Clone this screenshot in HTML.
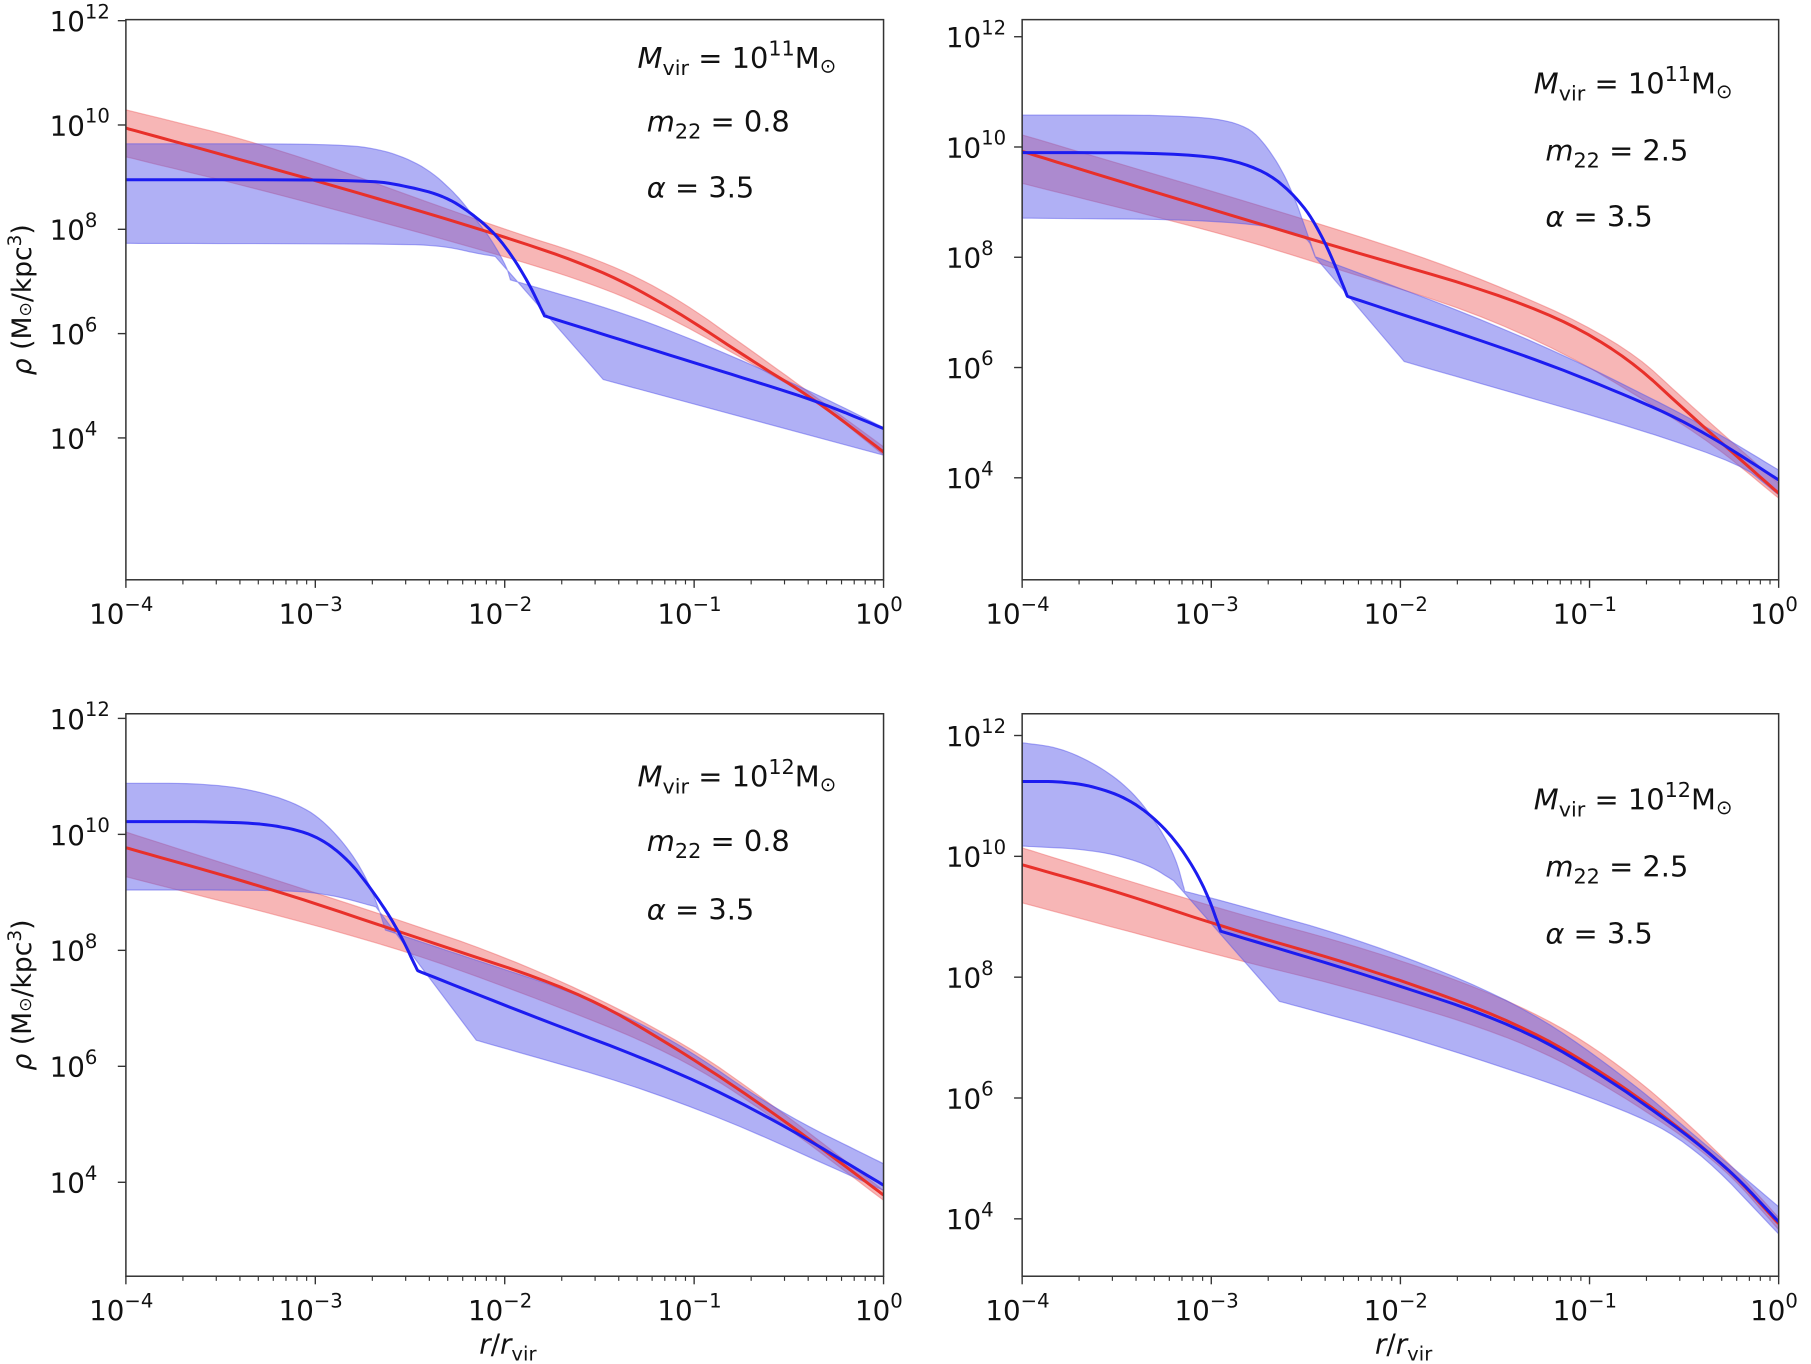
<!DOCTYPE html>
<html><head><meta charset="utf-8"><style>
html,body{margin:0;padding:0;background:#fff;}
svg{display:block;font-family:"DejaVu Sans","Liberation Sans",sans-serif;}
</style></head><body>
<svg id="fig" width="1811" height="1364" viewBox="0 0 1568 1181" preserveAspectRatio="none" xmlns="http://www.w3.org/2000/svg"></svg>
<script>
// ---- data (log10 r/rvir , log10 rho) ----
// top-left
const tlRedX=[-4,-2.94,-2.05,-1.49,-1.10,-0.70,-0.36,0];
const tlRedMean=[9.94,8.88,7.92,7.22,6.45,5.49,4.73,3.73];
const tlRUX=[-4,-3.21,-2.05,-1.49,-1.1,-0.7,-0.36,0];
const tlRedUp=[10.29,9.58,8.05,7.41,6.71,5.68,4.79,3.83];
const tlRLX=[-4,-3.21,-2.05,-1.49,-1.1,-0.7,-0.36,0];
const tlRedLo=[9.39,8.69,7.54,6.9,6.26,5.43,4.73,3.67];
const tlBlueX=[-4,-2.73,-2.52,-2.31,-2.15,-2.02,-1.89,-1.79,-1.36,-0.83,-0.36,0];
const tlBlueMean=[8.95,8.95,8.83,8.63,8.24,7.8,7.09,6.34,5.85,5.25,4.72,4.18];
const tlBUpX=[-4,-2.89,-2.63,-2.42,-2.26,-2.15,-2.07,-1.99,-1.97,-1.36,-0.83,-0.36,0];
const tlBUp=[9.64,9.64,9.52,9.2,8.69,8.18,7.8,7.28,7.03,6.39,5.62,4.85,4.2];
const tlBLoX=[-4,-2.52,-2.31,-2.15,-2.05,-1.48,0];
const tlBLo=[7.73,7.72,7.67,7.54,7.48,5.12,3.67];

// top-right
const trRedX=[-4,-3.22,-2.43,-1.37,-0.84,-0.44,0];
const trRedMean=[9.92,9.1,8.28,7.23,6.32,5.05,3.72];
const trRUX=[-4,-2.43,-1.63,-0.84,-0.44,0];
const trRedUp=[10.22,8.62,7.71,6.5,5.23,3.9];
const trRLX=[-4,-2.95,-2.43,-1.37,-0.44,0];
const trRedLo=[9.34,8.44,7.89,6.74,4.87,3.63];
const trBlueX=[-4,-3.09,-2.74,-2.53,-2.4,-2.28,-1.37,-0.84,-0.44,0];
const trBlueMean=[9.9,9.89,9.64,9.04,8.31,7.29,6.26,5.55,4.93,3.96];
const trBUpX=[-4,-3.14,-2.82,-2.69,-2.58,-2.48,-2.45,-1.37,-0.44,0];
const trBUp=[10.58,10.58,10.43,9.95,9.28,8.31,8.01,6.62,5.05,4.14];
const trBLoX=[-4,-2.95,-2.5,-2.45,-1.98,-0.26,0];
const trBLo=[8.71,8.68,8.45,8.0,6.11,4.41,3.69];

// bottom-left
const blRedX=[-4,-3.21,-2.42,-1.62,-1.1,-0.57,0];
const blRedMean=[9.77,9.04,8.17,7.31,6.33,5.18,3.78];
const blRUX=[-4,-2.68,-1.89,-1.1,-0.57,0];
const blRedUp=[10.04,8.66,7.77,6.51,5.3,3.86];
const blRLX=[-4,-2.68,-1.89,-1.1,-0.57,0];
const blRedLo=[9.27,8.17,7.25,6.22,5.1,3.69];
const blBlueX=[-4,-3.47,-3.21,-3.0,-2.84,-2.71,-2.57,-2.46,-1.89,-1.1,-0.57,0];
const blBlueMean=[10.22,10.22,10.16,9.99,9.61,9.09,8.4,7.65,6.91,5.93,5.07,3.95];
const blBUpX=[-4,-3.6,-3.31,-3.05,-2.89,-2.76,-2.68,-2.63,-2.15,-1.62,-1.1,-0.57,0];
const blBUp=[10.88,10.88,10.76,10.47,10.02,9.44,8.87,8.35,7.83,7.26,6.45,5.24,4.32];
const blBLoX=[-4,-3.21,-2.94,-2.68,-2.15,-1.1,0];
const blBLo=[9.04,9.04,8.98,8.75,6.45,5.47,3.86];

// bottom-right
const brRedX=[-4,-3.48,-2.95,-2.16,-1.37,-0.84,-0.31,0];
const brRedMean=[9.86,9.4,8.84,8.13,7.24,6.25,4.98,3.92];
const brRUX=[-4,-2.95,-2.16,-1.37,-0.84,-0.31,0];
const brRedUp=[10.14,9.12,8.46,7.57,6.58,5.09,4.02];
const brRLX=[-4,-2.95,-2.16,-1.37,-0.84,-0.31,0];
const brRedLo=[9.23,8.35,7.74,6.97,6.08,4.93,3.82];
const brBlueX=[-4,-3.8,-3.62,-3.43,-3.27,-3.14,-3.03,-2.95,-2.16,-1.37,-0.84,-0.31,0];
const brBlueMean=[11.24,11.24,11.16,10.94,10.55,10.06,9.45,8.76,8.02,7.19,6.2,4.98,3.95];
const brBUpX=[-4,-3.8,-3.59,-3.43,-3.3,-3.19,-3.14,-2.9,-2.16,-1.37,-0.84,-0.44,0];
const brBUp=[11.88,11.8,11.49,11.11,10.61,10.0,9.42,9.23,8.57,7.57,6.42,5.37,4.2];
const brBLoX=[-4,-3.62,-3.35,-3.2,-2.64,-1.9,-0.84,-0.44,0];
const brBLo=[10.17,10.11,9.89,9.6,7.6,6.97,5.86,5.2,3.75];

const xTickVals=[-4,-3,-2,-1,0];
const yTickVals=[4,6,8,10,12];

// indices of sharp corners for [blueMean, blueUpper, blueLower]
const panels=[
 {id:'top-left',x0:109,x1:765,y0:17,y1:502,yTop:12.02,yBot:1.28,t:[552,50,560,105,560,162],m:'11',mm:'0.8',
  r:[tlRedX,tlRedMean,tlRUX,tlRedUp,tlRLX,tlRedLo],b:[tlBlueX,tlBlueMean,tlBUpX,tlBUp,tlBLoX,tlBLo],c:[[7],[8],[4,5]],ylab:true,xlab:false},
 {id:'top-right',x0:885,x1:1540,y0:17,y1:502,yTop:12.31,yBot:2.15,t:[1328,72,1338,130,1338,187],m:'11',mm:'2.5',
  r:[trRedX,trRedMean,trRUX,trRedUp,trRLX,trRedLo],b:[trBlueX,trBlueMean,trBUpX,trBUp,trBLoX,trBLo],c:[[5],[6],[3,4]],ylab:false,xlab:false},
 {id:'bottom-left',x0:109,x1:765,y0:618,y1:1105,yTop:12.08,yBot:2.38,t:[552,672,560,728,560,787],m:'12',mm:'0.8',
  r:[blRedX,blRedMean,blRUX,blRedUp,blRLX,blRedLo],b:[blBlueX,blBlueMean,blBUpX,blBUp,blBLoX,blBLo],c:[[7],[7],[3,4]],ylab:true,xlab:true},
 {id:'bottom-right',x0:885,x1:1540,y0:618,y1:1105,yTop:12.36,yBot:3.05,t:[1328,692,1338,750,1338,808],m:'12',mm:'2.5',
  r:[brRedX,brRedMean,brRUX,brRedUp,brRLX,brRedLo],b:[brBlueX,brBlueMean,brBUpX,brBUp,brBLoX,brBLo],c:[[7],[6],[3,4]],ylab:false,xlab:true}
];

const NS='http://www.w3.org/2000/svg';
const svg=document.getElementById('fig');
function mk(tag,attrs,parent){const e=document.createElementNS(NS,tag);for(const k in attrs)e.setAttribute(k,attrs[k]);(parent||svg).appendChild(e);return e;}

function chaikin(P,iter){
  if(P.length<3)return P;
  for(let k=0;k<iter;k++){
    const Q=[P[0]];
    for(let i=0;i<P.length-1;i++){
      const a=P[i],b=P[i+1];
      Q.push([0.75*a[0]+0.25*b[0],0.75*a[1]+0.25*b[1]]);
      Q.push([0.25*a[0]+0.75*b[0],0.25*a[1]+0.75*b[1]]);
    }
    Q.push(P[P.length-1]);P=Q;
  }
  return P;
}
function smoothWithCorners(P,corners){
  const cuts=[0].concat(corners||[],[P.length-1]);
  let out=[];
  for(let i=0;i<cuts.length-1;i++){
    const seg=chaikin(P.slice(cuts[i],cuts[i+1]+1),3);
    out=out.concat(i?seg.slice(1):seg);
  }
  return out;
}

panels.forEach(p=>{
  const g=mk('g',{});
  
  
  const sx=v=>p.x0+(v+4)/4*(p.x1-p.x0);
  const sy=v=>p.y0+(p.yTop-v)/(p.yTop-p.yBot)*(p.y1-p.y0);
  const pts=(xs,ys,c)=>smoothWithCorners(xs.map((x,i)=>[sx(x),sy(ys[i])]),c).map(q=>q[0].toFixed(1)+','+q[1].toFixed(1));
  const band=(xu,yu,cu,xl,yl,cl)=>pts(xu,yu,cu).concat(pts(xl,yl,cl).reverse()).join(' ');
  const cp=mk('clipPath',{id:'clip-'+p.id},g);
  mk('rect',{x:p.x0,y:p.y0,width:p.x1-p.x0,height:p.y1-p.y0},cp);
  const inner=mk('g',{'clip-path':'url(#clip-'+p.id+')'},g);
  const rb=mk('polygon',{points:band(p.r[2],p.r[3],[],p.r[4],p.r[5],[]),fill:'rgba(240,110,110,0.5)',stroke:'rgba(240,110,110,0.5)','stroke-width':1},inner);
  
  
  const bb=mk('polygon',{points:band(p.b[2],p.b[3],p.c[1],p.b[4],p.b[5],p.c[2]),fill:'rgba(90,90,235,0.48)',stroke:'rgba(90,90,235,0.5)','stroke-width':1},inner);
  
  
  const rl=mk('polyline',{points:pts(p.r[0],p.r[1],[]).join(' '),fill:'none',stroke:'#e8302a','stroke-width':2.6,'stroke-linejoin':'round'},inner);
  
  
  const bl=mk('polyline',{points:pts(p.b[0],p.b[1],p.c[0]).join(' '),fill:'none',stroke:'#1c1cf0','stroke-width':2.6,'stroke-linejoin':'round'},inner);
  
  
  const fr=mk('rect',{x:p.x0,y:p.y0,width:p.x1-p.x0,height:p.y1-p.y0,fill:'none',stroke:'#333','stroke-width':1.3},g);
  
  
  xTickVals.forEach(v=>{
    const x=sx(v);
    mk('line',{x1:x,x2:x,y1:p.y1,y2:p.y1+7,stroke:'#333','stroke-width':1.2},g);
    const t=mk('text',{x:x-4,y:p.y1+38,'font-size':24,'text-anchor':'middle',fill:'#111'},g);
    
    
    t.textContent='10';
    const s=mk('tspan',{dy:-11,'font-size':17},t);s.textContent=(v<0?'\u2212'+(-v):''+v);
    if(v<0) for(let k=2;k<10;k++){const xm=sx(v+Math.log10(k));mk('line',{x1:xm,x2:xm,y1:p.y1,y2:p.y1+4,stroke:'#333','stroke-width':1},g);}
  });
  yTickVals.forEach(v=>{
    const y=sy(v);
    mk('line',{x1:p.x0,x2:p.x0-7,y1:y,y2:y,stroke:'#333','stroke-width':1.2},g);
    const t=mk('text',{x:p.x0-66,y:y+9,'font-size':24,fill:'#111'},g);
    
    
    t.textContent='10';
    const s=mk('tspan',{dy:-11,'font-size':17},t);s.textContent=''+v;
  });
  if(p.ylab){
    const cy=(p.y0+p.y1)/2;
    const t=mk('text',{x:0,y:0,'font-size':23,'text-anchor':'middle',fill:'#111',transform:`translate(27,${cy}) rotate(-90)`},g);
    
    
    t.innerHTML='<tspan font-style="italic">ρ</tspan> (M<tspan font-size="15">⊙</tspan>/kpc<tspan dy="-9" font-size="16">3</tspan><tspan dy="9">)</tspan>';
  }
  if(p.xlab){
    const t=mk('text',{x:(p.x0+p.x1)/2-22,y:1172,'font-size':24,fill:'#111'},g);
    
    
    t.innerHTML='<tspan font-style="italic">r</tspan>/<tspan font-style="italic">r</tspan><tspan dy="6" font-size="17">vir</tspan>';
  }
  const a1=mk('text',{x:p.t[0],y:p.t[1]+9,'font-size':25,fill:'#111'},g);
  
  
  a1.innerHTML='<tspan font-style="italic">M</tspan><tspan dy="6" font-size="18">vir</tspan><tspan dy="-6"> = 10</tspan><tspan dy="-11" font-size="18">'+p.m+'</tspan><tspan dy="11">M</tspan><tspan font-size="17" dy="4">⊙</tspan>';
  const a2=mk('text',{x:p.t[2],y:p.t[3]+9,'font-size':25,fill:'#111'},g);
  
  
  a2.innerHTML='<tspan font-style="italic">m</tspan><tspan dy="6" font-size="18">22</tspan><tspan dy="-6"> = '+p.mm+'</tspan>';
  const a3=mk('text',{x:p.t[4],y:p.t[5]+9,'font-size':25,fill:'#111'},g);
  
  
  a3.innerHTML='<tspan font-style="italic">α</tspan> = 3.5';
});
</script>
</body></html>
